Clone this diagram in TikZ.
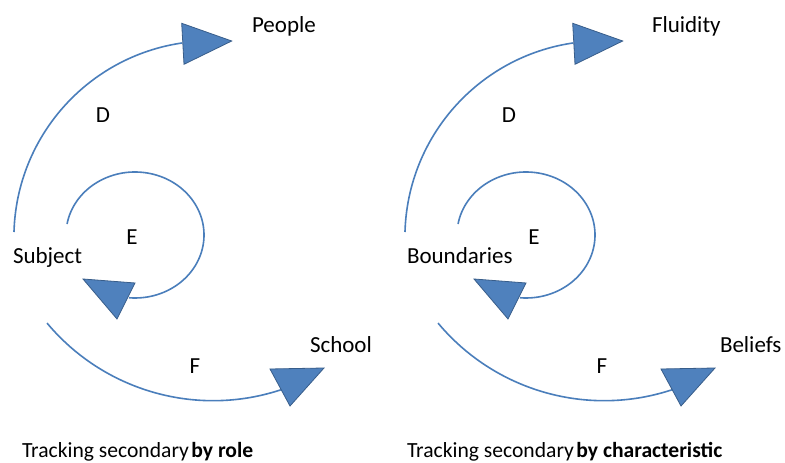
\documentclass[tikz,border=0pt]{standalone}
\usepackage{fontspec}
\setmainfont{Carlito}
\usetikzlibrary{calc}
\definecolor{arcline}{HTML}{4A7EBB}
\definecolor{headfill}{HTML}{4F81BD}
\definecolor{headline}{HTML}{385D8A}
\begin{document}
\begin{tikzpicture}[x=1pt,y=1pt,
  arcpath/.style={draw=arcline,line width=1.6pt},
  headtri/.style={fill=headfill,draw=headline,line width=0.8pt,line join=miter},
  lbl/.style={inner sep=0pt,outer sep=0pt,font=\fontsize{23}{26}\selectfont,text=black},
  caption/.style={inner sep=0pt,outer sep=0pt,font=\fontsize{21.6}{26}\selectfont,text=black,anchor=base west}]
\useasboundingbox (0,0) rectangle (785,463);
\fill[white] (0,0) rectangle (785,463);
\foreach \s/\dx/\ex/\fx in {0/103/132/195, 391/118/143/211}{
  \begin{scope}[xshift=\s pt]
    % D arc
    \coordinate (dstart) at ($(210.5,225.5)+(178.4:196.6)$);
    \draw[arcpath] (dstart) arc[start angle=178.4,end angle=98.3,radius=196.6];
    \draw[headtri] (181.7,439.7) -- (231.7,422) -- (184,398.7) -- cycle;
    % E arc
    \coordinate (estart) at ($(135,228)+(170:69 and 63)$);
    \draw[arcpath] (estart) arc[start angle=170,end angle=-95,x radius=69,y radius=63];
    \draw[headtri] (83,184) -- (135,180) -- (117,144) -- cycle;
    % F arc
    \coordinate (fstart) at ($(213.1,278.8)+(-140.1:216.5)$);
    \draw[arcpath] (fstart) arc[start angle=-140.1,end angle=-71.1,radius=216.5];
    \draw[headtri] (270,94) -- (324,95) -- (290,57) -- cycle;
    \node[lbl] (dlabel) at (\dx,348) {D};
    \node[lbl] (elabel) at (\ex,226) {E};
    \node[lbl] (flabel) at (\fx,97) {F};
  \end{scope}
}
% left panel labels
\node[lbl,anchor=base west] (people) at (252,430) {People};
\node[lbl,anchor=base west] (subject) at (13,199) {Subject};
\node[lbl,anchor=base west] (school) at (310,110) {School};
\node[caption] (capleft) at (22,5.5) {Tracking secondary\hspace{2.5pt}\textbf{by role}};
% right panel labels
\node[lbl,anchor=base west] (fluidity) at (652,430) {Fluidity};
\node[lbl,anchor=base west] (boundaries) at (407,199) {Boundaries};
\node[lbl,anchor=base west] (beliefs) at (720,110) {Beliefs};
\node[caption] (capright) at (407,5.5) {Tracking secondary\hspace{2.5pt}\textbf{by characteristic}};
\end{tikzpicture}
\end{document}
